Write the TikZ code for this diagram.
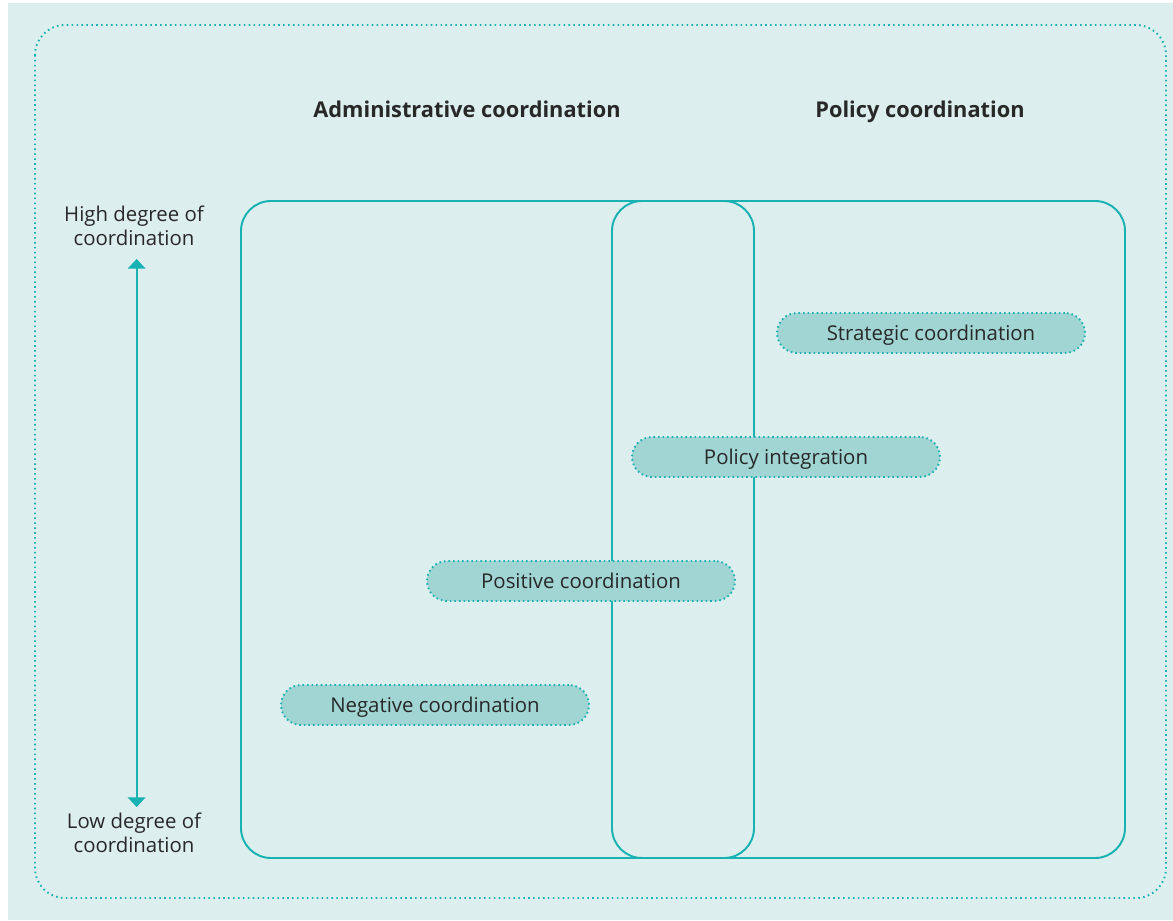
\documentclass[tikz,border=0pt]{standalone}
\usepackage{fontspec}
\setmainfont{Open Sans}
\usepackage{xcolor}
\usetikzlibrary{arrows.meta}

\definecolor{lineteal}{RGB}{24,178,178}
\definecolor{pillfill}{RGB}{160,213,212}
\definecolor{bgteal}{RGB}{221,238,238}
\definecolor{darktext}{RGB}{40,40,40}

\tikzset{
  pill/.style={draw=lineteal, fill=pillfill, line width=1.1pt,
    dash pattern=on 0.9pt off 1.7pt, rounded corners=0.4cm,
    minimum width=6.16cm, minimum height=0.8cm, inner sep=0pt,
    text height=9pt, text depth=1pt,
    text=darktext, font=\fontsize{11.6}{13}\selectfont},
  colhead/.style={text=darktext, text height=9.5pt, text depth=1pt,
    font=\bfseries\fontsize{12.4}{15}\selectfont},
  axislabel/.style={align=center, text=darktext, font=\fontsize{11.6}{13.5}\selectfont},
  frame/.style={draw=lineteal, line width=1.1pt, rounded corners=0.6cm}
}

\begin{document}
\begin{tikzpicture}[x=0.02cm,y=-0.02cm]
  \useasboundingbox (0,0) rectangle (1173,920);
  % Background
  \fill[bgteal] (8,3) rectangle (1173,920);

  % Outer dotted frame
  \draw[lineteal, line width=1.1pt, dash pattern=on 0.9pt off 1.9pt, rounded corners=0.6cm]
    (35,25) rectangle (1166,898);

  % Column headings
  \node[colhead] (admin) at (467,110) {Administrative coordination};
  \node[colhead] (policy) at (920,110) {Policy coordination};

  % Main box and overlap box
  \draw[frame] (241,201) rectangle (1125,858);
  \draw[frame] (612,201) rectangle (754,858);

  % Degree axis
  \node[axislabel] (high) at (134,226) {High degree of\\coordination};
  \node[axislabel] (low) at (134,833) {Low degree of\\coordination};
  \draw[lineteal, line width=1.1pt, {Triangle[width=10pt,length=5.5pt]}-{Triangle[width=10pt,length=5.5pt]},
    shorten <=4pt, shorten >=0pt] ([xshift=1.5pt]high.south) -- ([xshift=1.5pt]low.north);

  % Coordination types
  \node[pill] (strategic) at (931,333) {Strategic coordination};
  \node[pill] (integration) at (786,457) {Policy integration};
  \node[pill] (positive) at (581,581) {Positive coordination};
  \node[pill] (negative) at (435,705) {Negative coordination};
\end{tikzpicture}
\end{document}
